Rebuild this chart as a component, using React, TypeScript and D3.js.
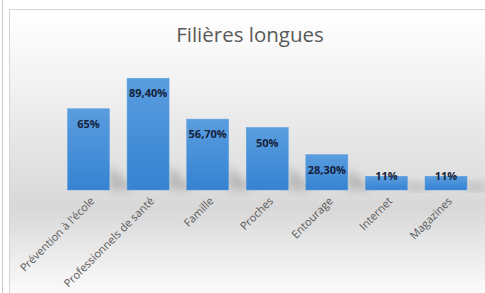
import { useEffect, useRef } from 'react';
import * as d3 from 'd3';

const categories = [
  'Prévention à l\'école',
  'Professionnels de santé',
  'Famille',
  'Proches',
  'Entourage',
  'Internet',
  'Magazines',
];
const values = [65, 89.4, 56.7, 50, 28.3, 11, 11];
const valueLabels = ['65%', '89,40%', '56,70%', '50%', '28,30%', '11%', '11%'];
const title = 'Filières longues';

function App() {
  const ref = useRef<SVGSVGElement>(null);

  useEffect(() => {
    const svg = d3.select(ref.current);
    svg.selectAll('*').remove();
    const W = 485;
    const H = 293;
    const baseY = 190;

    const defs = svg.append('defs');
    const bg = defs.append('linearGradient').attr('id', 'bg').attr('x1', 0).attr('y1', 0).attr('x2', 0).attr('y2', 1);
    bg.append('stop').attr('offset', '0%').attr('stop-color', '#ffffff');
    bg.append('stop').attr('offset', '20%').attr('stop-color', '#f5f5f5');
    bg.append('stop').attr('offset', '68%').attr('stop-color', '#d8d8d8');
    bg.append('stop').attr('offset', '100%').attr('stop-color', '#ffffff');

    const barGrad = defs.append('linearGradient').attr('id', 'bar').attr('x1', 0).attr('y1', 0).attr('x2', 0).attr('y2', 1);
    barGrad.append('stop').attr('offset', '0%').attr('stop-color', '#5a9ddf');
    barGrad.append('stop').attr('offset', '100%').attr('stop-color', '#3583d2');

    const shadow = defs.append('filter').attr('id', 'sh').attr('x', '-30%').attr('y', '-30%').attr('width', '180%').attr('height', '160%');
    shadow.append('feGaussianBlur').attr('stdDeviation', 4);

    svg.append('rect').attr('width', W).attr('height', H).attr('fill', '#ffffff');
    svg.append('line').attr('x1', 2.5).attr('x2', 2.5).attr('y1', 0).attr('y2', H).attr('stroke', '#c8c8c8');
    svg.append('rect').attr('x', 9.5).attr('y', 9.5).attr('width', W).attr('height', H)
      .attr('fill', 'url(#bg)').attr('stroke', '#d4d4d4');

    svg.append('text')
      .attr('x', 250).attr('y', 42)
      .attr('text-anchor', 'middle')
      .attr('font-family', 'Open Sans')
      .attr('font-size', 20.5)
      .attr('fill', '#595959')
      .text(title);

    const x = d3.scaleBand().domain(categories).range([58.7, 475.8]).paddingInner(0.295).paddingOuter(0.1475);
    const y = d3.scaleLinear().domain([0, 100]).range([baseY, 65]);

    // soft shadows behind bars
    svg.append('g').selectAll('path')
      .data(values)
      .enter()
      .append('path')
      .attr('d', (d, i) => {
        const x0 = x(categories[i])! + x.bandwidth();
        const h = Math.min(baseY - y(d), 40);
        return `M${x0},${baseY} L${x0},${baseY - h * 0.6} L${x0 + 22},${baseY - 4} L${x0 + 22},${baseY} Z`;
      })
      .attr('fill', '#8a8a8a')
      .attr('opacity', 0.45)
      .attr('filter', 'url(#sh)');

    svg.append('g').selectAll('rect')
      .data(values)
      .enter()
      .append('rect')
      .attr('x', (d, i) => x(categories[i])!)
      .attr('y', (d) => y(d))
      .attr('width', x.bandwidth())
      .attr('height', (d) => baseY - y(d))
      .attr('fill', 'url(#bar)')
      .attr('stroke', '#5d9fe0')
      .attr('stroke-width', 0.5);

    svg.append('g').selectAll('text')
      .data(values)
      .enter()
      .append('text')
      .attr('x', (d, i) => x(categories[i])! + x.bandwidth() / 2)
      .attr('y', (d) => Math.min(y(d) + 19, baseY - 10))
      .attr('text-anchor', 'middle')
      .attr('font-family', 'Open Sans')
      .attr('font-weight', 'bold')
      .attr('font-size', 11)
      .attr('fill', '#15213a')
      .text((d, i) => valueLabels[i]);

    svg.append('g').selectAll('text')
      .data(categories)
      .enter()
      .append('text')
      .attr('transform', (d) => `translate(${x(d)! + x.bandwidth() / 2 + 4},${baseY + 9}) rotate(-45)`)
      .attr('text-anchor', 'end')
      .attr('dy', '0.35em')
      .attr('font-family', 'Open Sans')
      .attr('font-size', 11)
      .attr('fill', '#595959')
      .text((d) => d);
  }, []);

  return (
    <div style={{ position: 'absolute', left: 0, top: 0 }}>
      <svg ref={ref} width={485} height={293} style={{ display: 'block' }}></svg>
    </div>
  );
}

export default App;
